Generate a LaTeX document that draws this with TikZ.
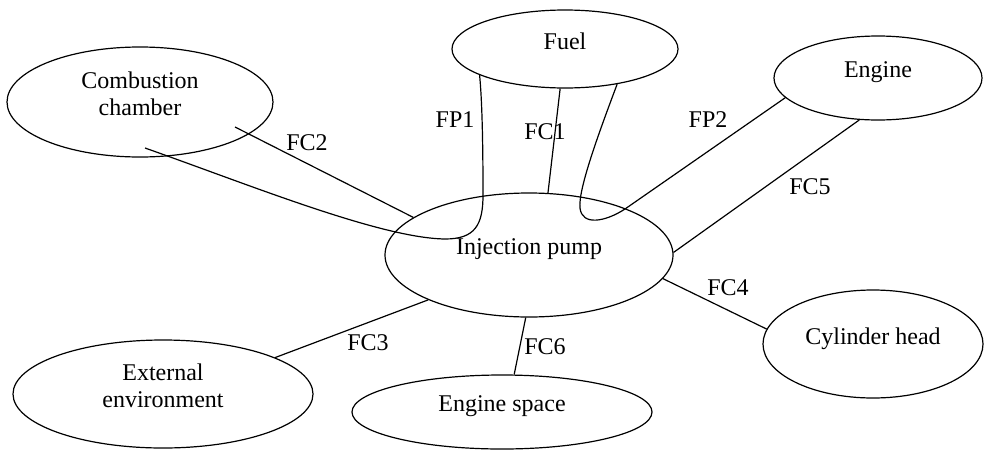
\documentclass[tikz,border=0pt]{standalone}
\usepackage{fontspec}
\setmainfont{Liberation Serif}
\usetikzlibrary{shapes.geometric}

\begin{document}
\begin{tikzpicture}[
  x=0.5pt, y=-0.5pt,
  every node/.style={font=\fontsize{12}{13.5}\selectfont},
  partbox/.style={ellipse, draw, line width=0.6pt, inner sep=0pt, align=center, text depth=8pt},
  link/.style={line width=0.6pt},
  flabel/.style={inner sep=1pt}
]
\useasboundingbox (0,0) rectangle (985,450);

% components
\node[partbox, minimum width=144pt, minimum height=62pt] (pump) at (529,255) {Injection pump};
\node[partbox, minimum width=133pt, minimum height=55pt] (chamber) at (140,102) {Combustion\\chamber};
\node[partbox, minimum width=113pt, minimum height=39pt] (fuel) at (565,49) {Fuel};
\node[partbox, minimum width=104pt, minimum height=42pt] (engine) at (878,78) {Engine};
\node[partbox, minimum width=110pt, minimum height=54pt] (head) at (873,344) {Cylinder head};
\node[partbox, minimum width=150pt, minimum height=37pt] (space) at (502,412) {Engine space};
\node[partbox, minimum width=150pt, minimum height=54pt] (outside) at (163,394) {External\\environment};

% functions
\draw[link] ([shift={(95,25)}]chamber.center) -- (pump.162.5);
\draw[link] ([shift={(5,46)}]chamber.center) .. controls (250,185) and (380,238) .. (445,239)
  .. controls (475,239) and (483,225) .. (483,195) .. controls (483,140) and (482,100) .. (fuel.197);
\draw[link] (fuel.263) -- (pump.73);
\draw[link] (fuel.-34) .. controls (598,135) and (578,190) .. (580,208)
  .. controls (582,226) and (605,222) .. (625,209) -- (engine.192);
\draw[link] (engine.-114) -- (pump.1);
\draw[link] (pump.-10) -- (head.172);
\draw[link] (pump.-93) -- (space.72);
\draw[link] (pump.204) -- (outside.18);

% labels
\node[flabel] (lFC2) at (307,143) {FC2};
\node[flabel] (lFP1) at (455,120) {FP1};
\node[flabel] (lFC1) at (545,132) {FC1};
\node[flabel] (lFP2) at (708,120) {FP2};
\node[flabel] (lFC5) at (810,187) {FC5};
\node[flabel] (lFC4) at (728,288) {FC4};
\node[flabel] (lFC3) at (368,343) {FC3};
\node[flabel] (lFC6) at (545,347) {FC6};
\end{tikzpicture}
\end{document}
